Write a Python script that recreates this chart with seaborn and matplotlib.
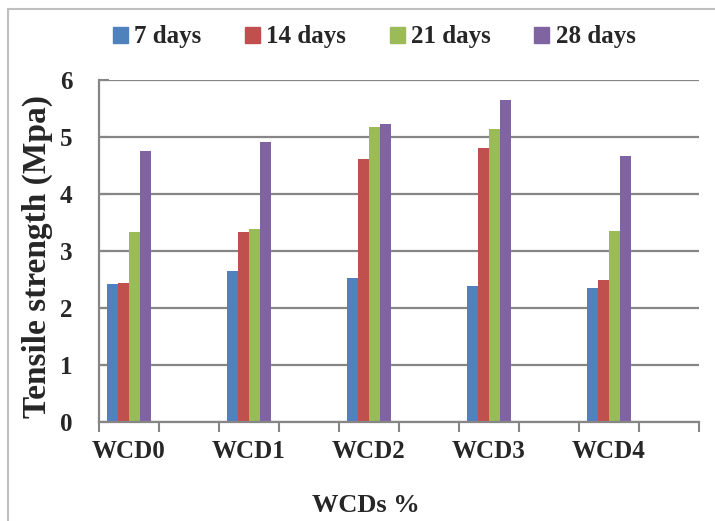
import matplotlib
matplotlib.use("Agg")
import matplotlib.pyplot as plt
import matplotlib.patches as mpatches
import seaborn as sns
import pandas as pd
import numpy as np

categories = ["WCD0", "WCD1", "WCD2", "WCD3", "WCD4"]
series = ["7 days", "14 days", "21 days", "28 days"]
days7 = [2.42, 2.65, 2.52, 2.38, 2.35]
days14 = [2.44, 3.34, 4.61, 4.81, 2.49]
days21 = [3.33, 3.39, 5.18, 5.14, 3.35]
days28 = [4.75, 4.91, 5.23, 5.65, 4.66]
colors = ["#4F81BD", "#C0504D", "#9BBB59", "#8064A2"]

rows = []
for s, vals in zip(series, [days7, days14, days21, days28]):
    for c, v in zip(categories, vals):
        rows.append({"cat": c, "series": s, "value": v})
df = pd.DataFrame(rows)

# Excel-like layout: every other category slot is blank
order = []
for i, c in enumerate(categories):
    order.append(c)
    order.append(" " * (i + 1))

sns.set_style("white")
plt.rcParams["font.family"] = ["Liberation Serif", "DejaVu Serif"]
plt.rcParams["font.weight"] = "bold"

fig = plt.figure(figsize=(7.15, 5.21), dpi=100)
ax = fig.add_axes([99 / 715, 1 - 422 / 521, 600 / 715, 342 / 521])

sns.barplot(data=df, x="cat", y="value", hue="series", order=order,
            hue_order=series, palette=colors, width=0.733, saturation=1,
            ax=ax, legend=False, edgecolor="none", linewidth=0)

ax.set_xlim(-0.5, len(order) - 0.5)
ax.set_ylim(0, 6)
ax.set_yticks(range(0, 7))
ax.set_yticklabels([str(i) for i in range(7)], fontsize=18, fontweight="bold")
ax.yaxis.grid(True, color="#868686", linewidth=1.6)
ax.set_axisbelow(True)

ax.set_xticks(range(len(order)))
ax.set_xticklabels([o if o.strip() else "" for o in order], fontsize=18,
                   fontweight="bold")
ax.tick_params(axis="x", which="major", length=0, pad=13, bottom=True)
ax.set_xticks(np.arange(-0.5, len(order), 1.0), minor=True)
ax.tick_params(axis="x", which="minor", length=7, width=1.5, color="#868686",
               direction="out", bottom=True)
ax.tick_params(axis="y", which="major", length=7, width=1.5, color="#868686",
               direction="in", pad=19, left=True)

for side in ["top", "right"]:
    ax.spines[side].set_visible(False)
for side in ["left", "bottom"]:
    ax.spines[side].set_color("#868686")
    ax.spines[side].set_linewidth(1.6)

ax.set_xlabel("WCDs %", fontsize=19, fontweight="bold")
ax.xaxis.set_label_coords((366 - 99) / 600, -(505 - 422) / 342)
ax.xaxis.label.set_va("center")
ax.set_ylabel("Tensile strength (Mpa)", fontsize=24, fontweight="bold")
ax.yaxis.set_label_coords(-(99 - 37) / 600, (422 - 256) / 342)
ax.yaxis.label.set_va("center")

handles = [mpatches.Patch(color=c, label=s) for c, s in zip(colors, series)]
fig.legend(handles=handles, loc="center", ncol=4,
           bbox_to_anchor=(374 / 715, 1 - 37 / 521), frameon=False,
           prop={"family": "Liberation Serif", "weight": "bold", "size": 18},
           handlelength=0.6, handleheight=0.6, handletextpad=0.25,
           columnspacing=1.75)

border = mpatches.Rectangle((8 / 715, -0.05), 1.0, 1 - 9 / 521 + 0.05,
                            transform=fig.transFigure, fill=False,
                            edgecolor="#BFBFBF", linewidth=1.5)
fig.add_artist(border)

fig.savefig("out.png", dpi=100)
